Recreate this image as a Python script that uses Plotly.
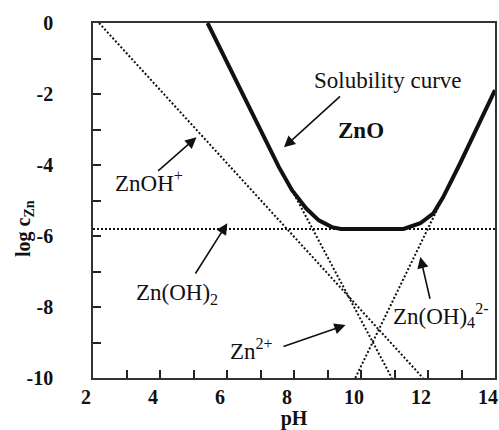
import plotly.graph_objects as go

# Total dissolved zinc (solubility of ZnO) versus pH
sol_ph = [5.42, 7.55, 7.94, 8.36, 8.74, 9.13, 9.40, 11.27, 11.77, 12.16, 12.45, 12.96, 14.0]
sol_log = [0.0, -4.06, -4.71, -5.22, -5.56, -5.75, -5.80, -5.80, -5.64, -5.36, -4.91, -3.95, -1.89]

# Individual species lines (end points; the upper parts run under the solubility curve)
zn2_ph, zn2_log = [7.94, 10.92], [-4.71, -10.0]
znoh_ph, znoh_log = [2.18, 11.85], [0.0, -10.0]
znoh2_ph, znoh2_log = [2.0, 14.0], [-5.8, -5.8]
znoh4_ph, znoh4_log = [9.83, 12.45], [-10.0, -4.91]

x_ticks = [2, 4, 6, 8, 10, 12, 14]
y_ticks = [0, -2, -4, -6, -8, -10]
y_tick_text = ["0", "-2", "-4", "-6", "-8", "-10"]

# Labels: (text, pH, log c, bold)
labels = [
    ("Solubility curve", 10.82, -1.63, False),
    ("ZnO", 10.0, -3.02, True),
    ("ZnOH<sup>+</sup>", 3.68, -4.46, False),
    ("Zn(OH)<sub>2</sub>", 4.52, -7.64, False),
    ("Zn<sup>2+</sup>", 6.72, -9.21, False),
    ("Zn(OH)<sub>4</sub><sup>2-</sup>", 12.4, -8.23, False),
]
# Arrows: (tail pH, tail log, head pH, head log)
arrows = [
    (9.42, -2.03, 7.70, -3.50),
    (3.90, -4.20, 5.09, -3.22),
    (5.03, -7.10, 6.01, -5.64),
    (7.64, -9.13, 9.54, -8.51),
    (12.07, -7.81, 11.77, -6.59),
]

SERIF = "Liberation Serif"
dot = dict(color="#111", width=2, dash="2px,2px")

fig = go.Figure()
for xs, ys in [(znoh2_ph, znoh2_log), (znoh_ph, znoh_log),
               (zn2_ph, zn2_log), (znoh4_ph, znoh4_log)]:
    fig.add_trace(go.Scatter(x=xs, y=ys, mode="lines", line=dot,
                             hoverinfo="skip", showlegend=False))
fig.add_trace(go.Scatter(x=sol_ph, y=sol_log, mode="lines",
                         line=dict(color="#111", width=4),
                         showlegend=False))

for text, x, y, bold in labels:
    fig.add_annotation(x=x, y=y, text=text, showarrow=False,
                       font=dict(family=SERIF, size=23, color="#111",
                                 weight="bold" if bold else "normal"))
for tx, ty, hx, hy in arrows:
    fig.add_annotation(x=hx, y=hy, ax=tx, ay=ty, xref="x", yref="y",
                       axref="x", ayref="y", text="", showarrow=True,
                       arrowhead=2, arrowsize=1.4, arrowwidth=1.6,
                       arrowcolor="#111")

fig.add_annotation(text="log c<sub>Zn</sub>", xref="paper", yref="paper",
                   x=-0.205, y=0.42, textangle=-90, showarrow=False,
                   font=dict(family=SERIF, size=20, color="#111", weight="bold"))

axis_common = dict(showgrid=False, zeroline=False, showline=True, mirror=True,
                   linecolor="#333", linewidth=1.5, ticks="inside", ticklen=8,
                   tickwidth=1.5, tickcolor="#222",
                   tickfont=dict(family=SERIF, size=20, color="#111", weight="bold"))

fig.update_xaxes(range=[2, 14], tickvals=x_ticks, ticklabelshift=-7,
                 ticklabelstandoff=0,
                 minor=dict(dtick=1, tick0=2, ticks="inside", ticklen=8,
                            tickwidth=1.5, tickcolor="#222"),
                 title=dict(text="pH", standoff=4,
                            font=dict(family=SERIF, size=20, color="#111", weight="bold")),
                 **axis_common)
fig.update_yaxes(range=[-10, 0], tickvals=y_ticks, ticktext=y_tick_text,
                 ticklabelstandoff=34,
                 minor=dict(dtick=1, tick0=0, ticks="inside", ticklen=8,
                            tickwidth=1.5, tickcolor="#222"),
                 **axis_common)

fig.update_layout(width=499, height=430, plot_bgcolor="white", paper_bgcolor="white",
                  margin=dict(l=93, r=2, t=23, b=52), showlegend=False)

fig.write_html("out.html")
